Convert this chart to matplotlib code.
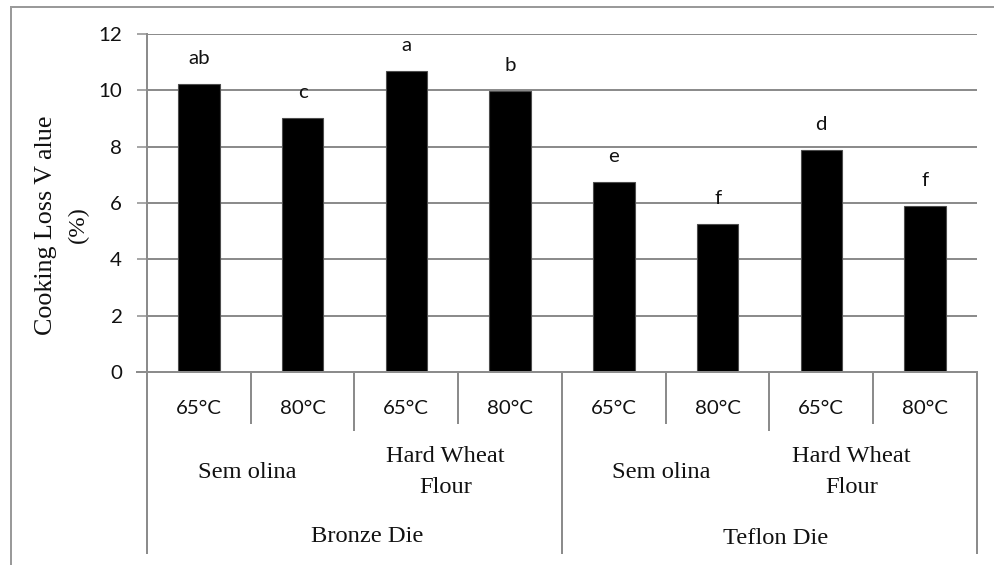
import matplotlib
matplotlib.use("Agg")
import matplotlib.pyplot as plt
from matplotlib.patches import Rectangle

temperatures = ["65°C", "80°C", "65°C", "80°C", "65°C", "80°C", "65°C", "80°C"]
materials = ["Sem olina", "Hard Wheat\nFlour", "Sem olina", "Hard Wheat\nFlour"]
dies = ["Bronze Die", "Teflon Die"]
cooking_loss = [10.23, 9.01, 10.67, 9.96, 6.73, 5.24, 7.88, 5.88]
letters = ["ab", "c", "a", "b", "e", "f", "d", "f"]
y_ticks = [0, 2, 4, 6, 8, 10, 12]

W, H = 995, 565
DPI = 100
fig = plt.figure(figsize=(W / DPI, H / DPI), dpi=DPI)

L, R, T, B = 147, 977, 34, 372
ax = fig.add_axes([L / W, (H - B) / H, (R - L) / W, (B - T) / H])

GRID = "#8c8c8c"
SANS = ["Lato", "DejaVu Sans"]
SERIF = ["Liberation Serif", "DejaVu Serif"]
PX = 72 / DPI  # points per pixel
SANS_SIZE = 20.5 * PX
SERIF_SIZE = 24.5 * PX
TXT = "#111111"

x = list(range(len(cooking_loss)))
ax.bar(x, cooking_loss, width=0.4, color="black", edgecolor="#4d4d4d",
       linewidth=0.8, zorder=3)

for xi, v, s in zip(x, cooking_loss, letters):
    ax.annotate(s, (xi, v), xytext=(0, 20 * PX), textcoords="offset points",
                ha="center", va="baseline", fontsize=SANS_SIZE,
                family=SANS, color=TXT)

ax.set_xlim(-0.5, len(x) - 0.5)
ax.set_ylim(0, 12)
ax.set_yticks(y_ticks)
ax.set_yticklabels([str(t) for t in y_ticks], family=SANS, fontsize=SANS_SIZE,
                   color=TXT)
ax.tick_params(axis="y", length=10 * PX, width=1.5 * PX, color=GRID,
               pad=15 * PX)
ax.set_xticks([])
for sp in ["top", "right", "bottom"]:
    ax.spines[sp].set_visible(False)
ax.spines["left"].set_color(GRID)
ax.spines["left"].set_linewidth(2 * PX)
ax.grid(axis="y", color=GRID, linewidth=2 * PX, zorder=0)
ax.set_axisbelow(True)

tr = ax.get_xaxis_transform()
UNIT = (R - L) / len(x)  # pixels per category


def ay(yimg):
    return (B - yimg) / (B - T)


# axis line at 0 extending to tick
ax.plot([-0.5 - 10 / UNIT, len(x) - 0.5], [0, 0], transform=tr, color=GRID,
        lw=2 * PX, clip_on=False, zorder=4)

# level 1 labels (temperature)
for xi, t in zip(x, temperatures):
    ax.text(xi, ay(409), t, transform=tr, ha="center", va="center",
            family=SANS, fontsize=SANS_SIZE, color=TXT)

# separators
for b in [0.5, 2.5, 4.5, 6.5]:
    ax.plot([b, b], [0, ay(423)], transform=tr, color=GRID, lw=2 * PX,
            clip_on=False)
for b in [1.5, 5.5]:
    ax.plot([b, b], [0, ay(430)], transform=tr, color=GRID, lw=2 * PX,
            clip_on=False)
for b in [-0.5, 3.5, 7.5]:
    ax.plot([b, b], [0, ay(553)], transform=tr, color=GRID, lw=2 * PX,
            clip_on=False)

# level 2 labels (material), centred on their group with Excel's slight offset
mat_centres = [0.5, 2.5, 4.5, 6.5]
mat_shift = [-0.03, -0.12, -0.04, -0.21]
mat_y = [473, 472, 473, 472]
for mc, sh, my, m in zip(mat_centres, mat_shift, mat_y, materials):
    ax.text(mc + sh, ay(my), m, transform=tr, ha="center", va="center",
            family=SERIF, fontsize=SERIF_SIZE, color=TXT,
            linespacing=1.6)

# level 3 labels (die)
die_centres = [1.5, 5.5]
die_shift = [0.12, 0.06]
die_y = [536, 538]
for dc, sh, dy, d in zip(die_centres, die_shift, die_y, dies):
    ax.text(dc + sh, ay(dy), d, transform=tr, ha="center", va="center",
            family=SERIF, fontsize=SERIF_SIZE, color=TXT)

# y-axis label
fig.text(46 / W, 1 - 225 / H, "Cooking Loss V alue", rotation=90,
         ha="center", va="center", family=SERIF, fontsize=26 * PX,
         color=TXT)
fig.text(78 / W, 1 - 225 / H, "(%)", rotation=90, ha="center", va="center",
         family=SERIF, fontsize=SERIF_SIZE, color=TXT)

# chart border
fig.add_artist(Rectangle((11 / W, -0.05), 1.2, 1 - 7 / H + 0.05,
                         transform=fig.transFigure, fill=False,
                         edgecolor="#9a9a9a", linewidth=2 * PX))

fig.savefig("out.png", dpi=DPI)
